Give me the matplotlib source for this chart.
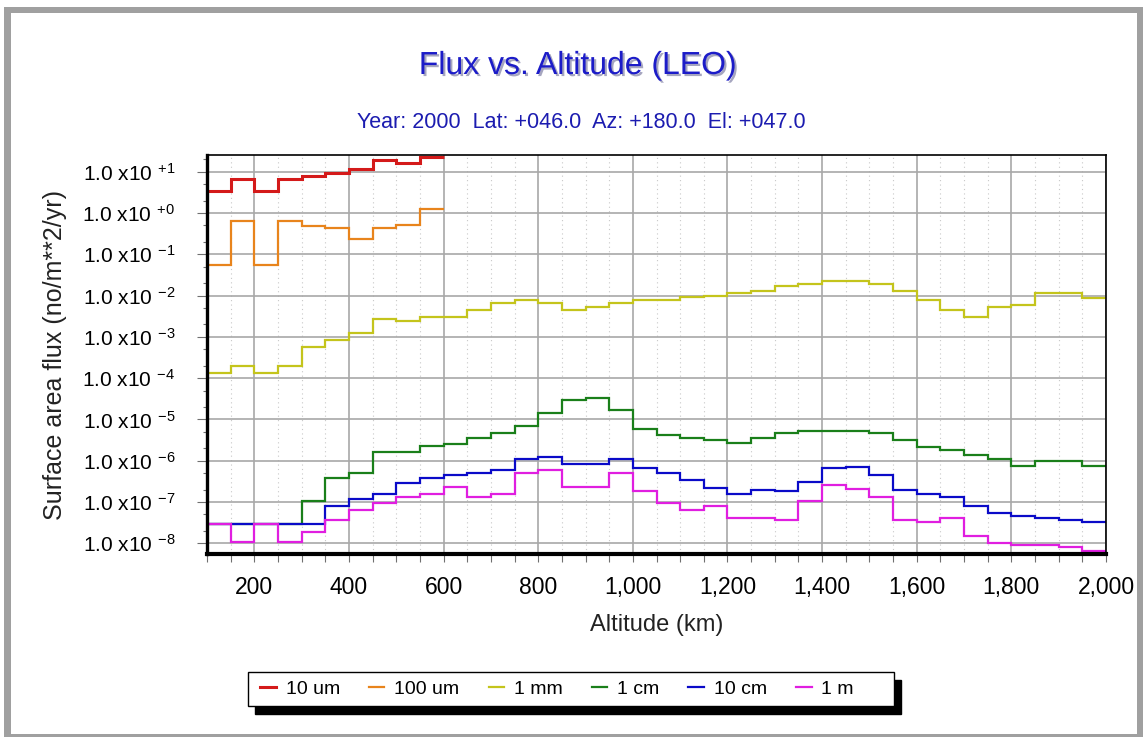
import numpy as np
import matplotlib
matplotlib.use('Agg')
import matplotlib.pyplot as plt
import matplotlib.ticker as mticker
import matplotlib.patheffects as pe
from matplotlib.patches import Rectangle

plt.rcParams['font.family'] = ['Liberation Sans', 'DejaVu Sans']
plt.rcParams['mathtext.fontset'] = 'custom'
plt.rcParams['mathtext.rm'] = 'Liberation Sans'
plt.rcParams['mathtext.it'] = 'Liberation Sans'
plt.rcParams['mathtext.default'] = 'regular'

# altitude bins (km), 50 km wide
edges_full = np.arange(100, 2001, 50)
edges_low = np.arange(100, 601, 50)

flux_10um = [3.5, 6.8, 3.5, 6.8, 7.7, 9.2, 11.4, 19.0, 16.5, 23.0]
flux_100um = [0.054, 0.65, 0.054, 0.65, 0.49, 0.44, 0.23, 0.44, 0.50, 1.25]
flux_1mm = [1.35e-4, 2.0e-4, 1.35e-4, 2.0e-4, 5.7e-4, 8.3e-4, 1.23e-3, 2.7e-3, 2.4e-3, 3.1e-3,
            3.1e-3, 4.5e-3, 6.6e-3, 7.6e-3, 6.6e-3, 4.5e-3, 5.2e-3, 6.6e-3, 7.6e-3, 7.6e-3,
            9.1e-3, 1.0e-2, 1.15e-2, 1.3e-2, 1.7e-2, 1.9e-2, 2.2e-2, 2.2e-2, 1.9e-2, 1.3e-2,
            7.6e-3, 4.5e-3, 3.1e-3, 5.2e-3, 5.9e-3, 1.15e-2, 1.15e-2, 8.7e-3]
flux_1cm = [2.9e-8, 2.9e-8, 2.9e-8, 2.9e-8, 1.07e-7, 3.9e-7, 5.0e-7, 1.66e-6, 1.66e-6, 2.3e-6,
            2.5e-6, 3.5e-6, 4.8e-6, 6.9e-6, 1.45e-5, 2.9e-5, 3.3e-5, 1.7e-5, 5.9e-6, 4.1e-6,
            3.5e-6, 3.1e-6, 2.7e-6, 3.5e-6, 4.6e-6, 5.2e-6, 5.3e-6, 5.3e-6, 4.7e-6, 3.1e-6,
            2.1e-6, 1.8e-6, 1.4e-6, 1.1e-6, 7.4e-7, 9.8e-7, 9.8e-7, 7.4e-7]
flux_10cm = [2.9e-8, 2.9e-8, 2.9e-8, 2.9e-8, 2.9e-8, 8.1e-8, 1.2e-7, 1.55e-7, 2.9e-7, 3.8e-7,
             4.4e-7, 5.0e-7, 6.0e-7, 1.1e-6, 1.2e-6, 8.3e-7, 8.3e-7, 1.1e-6, 6.6e-7, 5.0e-7,
             3.5e-7, 2.2e-7, 1.55e-7, 2.0e-7, 1.8e-7, 3.0e-7, 6.6e-7, 7.2e-7, 4.4e-7, 2.0e-7,
             1.55e-7, 1.35e-7, 8.1e-8, 5.4e-8, 4.7e-8, 4.2e-8, 3.7e-8, 3.3e-8]
flux_1m = [2.9e-8, 1.1e-8, 2.9e-8, 1.1e-8, 1.9e-8, 3.7e-8, 6.3e-8, 9.3e-8, 1.35e-7, 1.55e-7,
           2.3e-7, 1.35e-7, 1.55e-7, 5.0e-7, 5.8e-7, 2.3e-7, 2.3e-7, 5.0e-7, 1.8e-7, 9.3e-8,
           6.3e-8, 8.1e-8, 4.2e-8, 4.2e-8, 3.7e-8, 1.05e-7, 2.6e-7, 2.1e-7, 1.35e-7, 3.7e-8,
           3.3e-8, 4.2e-8, 1.5e-8, 1.0e-8, 9.1e-9, 9.1e-9, 7.9e-9, 6.6e-9]

labels = ['10 um', '100 um', '1 mm', '1 cm', '10 cm', '1 m']
colors = ['#d41a1a', '#e8841c', '#c4c41c', '#1a7f1a', '#0a0ac8', '#e01ee0']

W, H = 1143, 737
fig = plt.figure(figsize=(W / 100, H / 100), dpi=100)

# gray outer frame
fig.patches.append(Rectangle((4 / W, 0), 1 - 4 / W, 1 - 7 / H, transform=fig.transFigure,
                             facecolor='#a0a0a0', edgecolor='none', zorder=-10))
fig.patches.append(Rectangle((11 / W, 3 / H), (1137 - 11) / W, (724 - 3) / H, transform=fig.transFigure,
                             facecolor='white', edgecolor='none', zorder=-9))

ax = fig.add_axes([207 / W, 1 - 554 / H, (1106 - 207) / W, (554 - 155) / H])
ax.set_facecolor('none')

series = [(edges_low, flux_10um), (edges_low, flux_100um), (edges_full, flux_1mm),
          (edges_full, flux_1cm), (edges_full, flux_10cm), (edges_full, flux_1m)]
for (ed, vals), c, lab in zip(series, colors, labels):
    lw = 2.2 if lab == '10 um' else 1.6
    ax.stairs(vals, ed, color=c, lw=lw, label=lab, baseline=None)

ax.set_yscale('log')
ax.set_xlim(100, 2000)
ax.set_ylim(10 ** -8.26, 10 ** 1.404)

ax.xaxis.set_major_locator(mticker.MultipleLocator(200))
ax.xaxis.set_minor_locator(mticker.MultipleLocator(50))
ax.xaxis.set_major_formatter(mticker.FuncFormatter(lambda v, p: '{:,.0f}'.format(v)))
ax.yaxis.set_major_locator(mticker.LogLocator(base=10, numticks=20))
ax.yaxis.set_minor_locator(mticker.LogLocator(base=10, subs=(2, 5), numticks=20))
ax.yaxis.set_minor_formatter(mticker.NullFormatter())
ax.yaxis.set_major_formatter(mticker.FuncFormatter(
    lambda v, p: '1.0 x10 $^{%+d}$' % int(round(np.log10(v)))))

ax.grid(True, which='major', color='#a8a8a8', lw=1.2, ls='-')
ax.grid(True, which='minor', axis='x', color='#c8c8c8', lw=0.8, ls=(0, (1, 3)))
ax.set_axisbelow(True)

ax.tick_params(axis='x', which='both', direction='out', length=6, width=0.8,
               color='#707070', labelsize=16.5, pad=10)
ax.tick_params(axis='y', which='major', direction='out', length=7, width=0.8,
               color='#707070', labelsize=15, pad=16)
ax.tick_params(axis='y', which='minor', direction='out', length=3, width=0.8, color='#707070')

ax.spines['left'].set_linewidth(2.4)
ax.spines['bottom'].set_linewidth(3.0)
ax.spines['top'].set_linewidth(1.2)
ax.spines['right'].set_linewidth(1.2)

ax.set_xlabel('Altitude (km)', fontsize=17, color='#222222', labelpad=11)
ax.set_ylabel('Surface area flux (no/m**2/yr)', fontsize=18, color='#222222', labelpad=11)

fig.text(578 / W, 1 - 66 / H, 'Flux vs. Altitude (LEO)', ha='center', va='center',
         fontsize=23, color='#1c1cc8',
         path_effects=[pe.withSimplePatchShadow(offset=(1.5, -1.5), shadow_rgbFace='#9090b0', alpha=0.8)])
fig.text(581 / W, 1 - 122 / H, 'Year: 2000  Lat: +046.0  Az: +180.0  El: +047.0',
         ha='center', va='center', fontsize=15.5, color='#1c1cb0')

# legend box with solid shadow
fig.patches.append(Rectangle((255 / W, 23 / H), (894 - 248) / W, (706 - 672) / H,
                             transform=fig.transFigure, facecolor='black', edgecolor='black', zorder=1))
fig.patches.append(Rectangle((248 / W, 31 / H), (894 - 248) / W, (706 - 672) / H,
                             transform=fig.transFigure, facecolor='white', edgecolor='black',
                             lw=1.0, zorder=2))
leg = fig.legend(loc='center', bbox_to_anchor=(557 / W, 48 / H), ncol=6, frameon=False,
                 fontsize=14, handlelength=0.8, handletextpad=0.5, columnspacing=1.5)
leg.set_zorder(3)

fig.savefig('out.png', dpi=100)
